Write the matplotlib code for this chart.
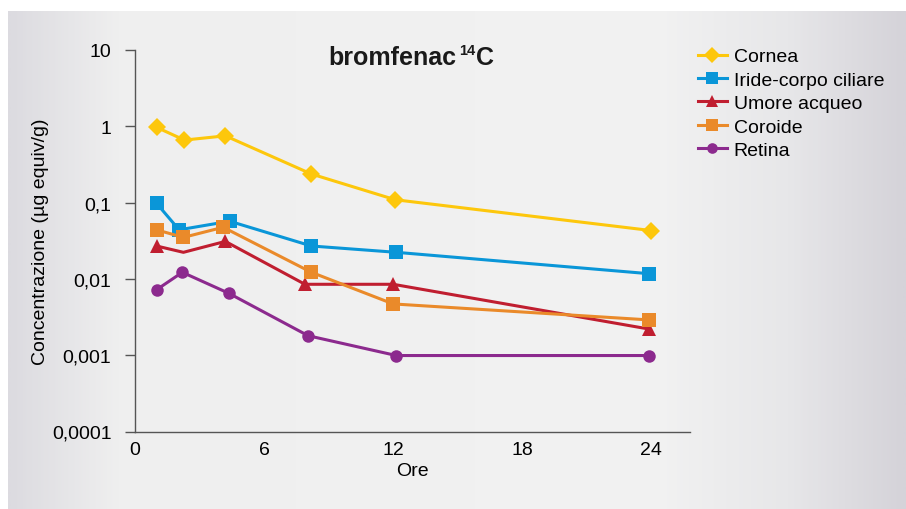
import matplotlib.pyplot as plt
import matplotlib.colors as mcolors
import numpy as np

plt.rcParams['font.family'] = ['Liberation Sans', 'DejaVu Sans']

# data (hours, µg equiv/g)
cornea_x = [1.0, 2.3, 4.2, 8.2, 12.1, 24.0]
cornea_y = [0.97, 0.66, 0.75, 0.237, 0.109, 0.043]

iride_x = [1.0, 2.05, 4.4, 8.2, 12.15, 23.9]
iride_y = [0.098, 0.044, 0.057, 0.027, 0.0223, 0.0117]

umore_x = [1.0, 2.25, 4.2, 7.9, 12.0, 23.9]
umore_y = [0.027, 0.0223, 0.031, 0.0085, 0.0085, 0.0022]

coroide_x = [1.0, 2.25, 4.1, 8.2, 12.0, 23.9]
coroide_y = [0.044, 0.035, 0.0475, 0.0122, 0.0047, 0.0029]

retina_x = [1.0, 2.2, 4.35, 8.05, 12.15, 23.9]
retina_y = [0.0072, 0.0122, 0.0065, 0.0018, 0.00099, 0.00099]

x_ticks = [0, 6, 12, 18, 24]
y_ticks = [1e-4, 1e-3, 1e-2, 1e-1, 1, 10]
y_labels = ['0,0001', '0,001', '0,01', '0,1', '1', '10']

fig = plt.figure(figsize=(9.06, 5.1), dpi=100, facecolor='white')

# grey panel with soft horizontal gradient
bg = fig.add_axes([0, 0, 1, 1], zorder=-1)
bg.set_xlim(0, 906)
bg.set_ylim(510, 0)
bg.axis('off')
stops = [(0.0, '#dcdbe0'), (0.12, '#efefef'), (0.72, '#f2f2f2'), (0.87, '#e7e7e9'), (1.0, '#d5d3d9')]
cmap = mcolors.LinearSegmentedColormap.from_list('panel', stops)
grad = np.linspace(0, 1, 400).reshape(1, -1)
bg.imshow(grad, cmap=cmap, aspect='auto', extent=[8, 906, 510, 12], interpolation='bilinear')

ax = fig.add_axes([135 / 906, 1 - 432.5 / 510, 555 / 906, 381.5 / 510])
ax.set_facecolor('none')

series = [
    ('Cornea', cornea_x, cornea_y, '#fdc70c', 'D', 9.5, None),
    ('Iride-corpo ciliare', iride_x, iride_y, '#0a96d8', 's', 10, None),
    ('Umore acqueo', umore_x, umore_y, '#c01e30', '^', 10, [0, 2, 3, 4, 5]),
    ('Coroide', coroide_x, coroide_y, '#ea8a2a', 's', 10, None),
    ('Retina', retina_x, retina_y, '#8c2a8e', 'o', 9, None),
]
for name, xs, ys, col, mk, ms, every in series:
    ax.plot(xs, ys, color=col, lw=2.2, marker=mk, ms=ms, label=name,
            markeredgewidth=0, markevery=every, clip_on=False)

ax.set_yscale('log')
ax.set_ylim(1e-4, 10)
ax.set_xlim(0, 25.8)
ax.set_yticks(y_ticks)
ax.set_yticklabels(y_labels)
ax.minorticks_off()
ax.set_xticks(x_ticks)
ax.tick_params(axis='y', direction='out', length=7, width=1, color='#555555',
               labelsize=14, pad=10)
ax.tick_params(axis='x', length=0, labelsize=14, pad=7)
for s in ['top', 'right']:
    ax.spines[s].set_visible(False)
for s in ['left', 'bottom']:
    ax.spines[s].set_color('#555555')
    ax.spines[s].set_linewidth(1)

ax.set_xlabel('Ore', fontsize=14, labelpad=3)
ax.set_ylabel('Concentrazione (µg equiv/g)', fontsize=14, labelpad=2)

# title with a small superscript mass number
ty = 1 - 58 / 510
fig.text(456 / 906, ty, 'bromfenac', ha='right', va='center',
         fontsize=18, fontweight='bold', color='#1a1a1a')
fig.text(459 / 906, ty + 7 / 510, '14', ha='left', va='center',
         fontsize=10.5, fontweight='bold', color='#1a1a1a')
fig.text(476 / 906, ty, 'C', ha='left', va='center',
         fontsize=18, fontweight='bold', color='#1a1a1a')

ax.legend(loc='upper left', bbox_to_anchor=(688 / 906, 1 - 39 / 510),
          bbox_transform=fig.transFigure, frameon=False, fontsize=14,
          handlelength=1.5, handletextpad=0.35, labelspacing=0.3,
          borderpad=0, markerscale=0.85)

fig.savefig('out.png', dpi=100, facecolor='white')
